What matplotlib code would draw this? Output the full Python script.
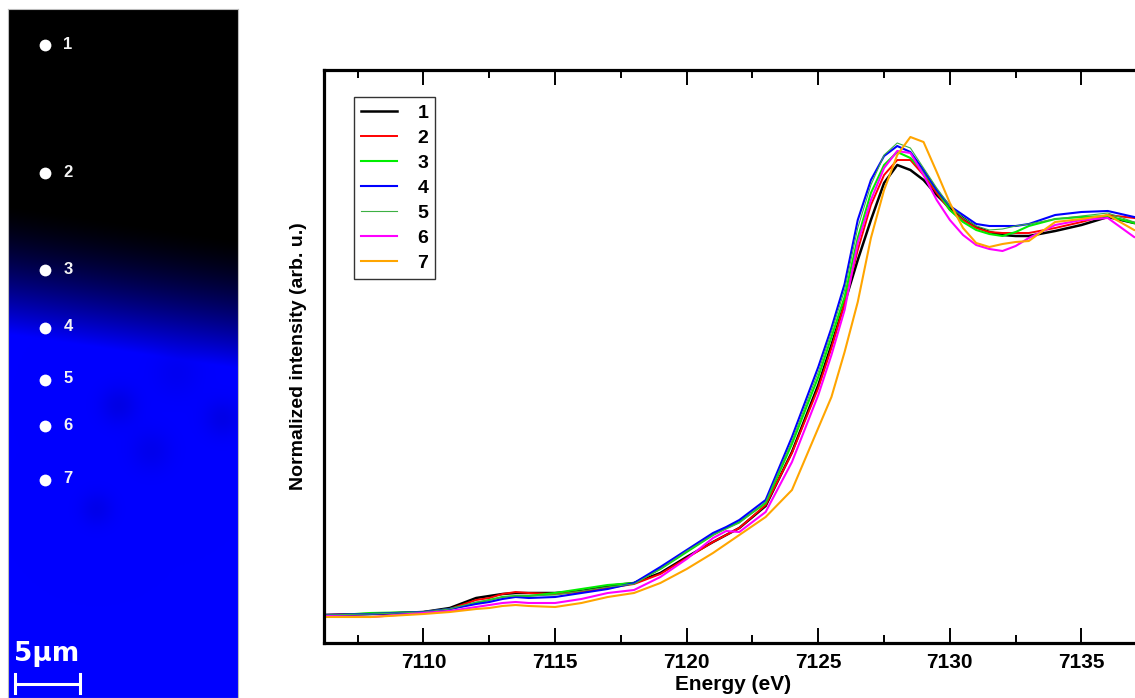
import numpy as np
import matplotlib
matplotlib.use("Agg")
import matplotlib.pyplot as plt
from matplotlib.ticker import MultipleLocator

plt.rcParams['font.family'] = ['Liberation Sans', 'DejaVu Sans']

# ---------------- data ----------------
energy = [7106.2, 7108, 7110, 7111, 7112, 7112.5, 7113, 7113.5, 7114, 7115, 7116,
          7117, 7118, 7119, 7120, 7121, 7121.5, 7122, 7123, 7124, 7125, 7125.5,
          7126, 7126.5, 7127, 7127.5, 7128, 7128.5, 7129, 7129.5, 7130, 7130.5,
          7131, 7131.5, 7132, 7132.5, 7133, 7134, 7135, 7136, 7137, 7138]

# raw intensities (arb. u.), pre-edge set to zero
raw_1 = [0, 1, 3, 7, 17, 19, 21, 22, 22, 22, 24, 29, 32, 42, 58, 73, 80, 87, 109, 163, 230, 270,
         312, 355, 395, 432, 450, 445, 435, 420, 407, 397, 388, 383, 380, 379, 379, 384, 390, 398, 392, 389]
raw_2 = [0, 1, 3, 6, 15, 17, 21, 23, 22, 21, 23, 27, 31, 41, 57, 73, 80, 87, 110, 162, 227, 267,
         312, 365, 410, 440, 455, 455, 440, 422, 405, 395, 387, 383, 382, 382, 382, 387, 393, 400, 397, 393]
raw_3 = [-1, 2, 3, 6, 12, 15, 18, 19, 19, 22, 26, 30, 32, 46, 63, 80, 87, 93, 112, 171, 238, 278,
         318, 377, 422, 450, 463, 457, 443, 425, 405, 393, 385, 381, 379, 383, 389, 396, 398, 399, 392, 389]
raw_4 = [0, 1, 3, 6, 11, 13, 16, 18, 17, 18, 22, 26, 32, 48, 65, 82, 88, 95, 115, 178, 248, 287,
         331, 395, 435, 459, 469, 463, 445, 425, 409, 400, 391, 389, 389, 389, 391, 400, 403, 404, 398, 393]
raw_5 = [0, 1, 3, 6, 13, 15, 18, 19, 19, 20, 24, 28, 31, 46, 64, 80, 86, 92, 113, 174, 243, 283,
         325, 387, 430, 460, 472, 467, 447, 427, 409, 397, 389, 385, 386, 389, 391, 396, 399, 402, 393, 389]
raw_6 = [-1, -2, 2, 4, 8, 10, 12, 13, 12, 12, 16, 22, 25, 38, 56, 77, 84, 83, 103, 153, 220, 260,
         305, 372, 415, 447, 464, 462, 440, 415, 395, 380, 370, 366, 364, 369, 377, 390, 395, 397, 378, 370]
raw_7 = [-2, -2, 1, 3, 6, 7, 9, 10, 9, 8, 12, 18, 22, 32, 46, 62, 71, 80, 98, 125, 187, 218,
         263, 313, 377, 425, 460, 478, 473, 443, 412, 387, 372, 368, 371, 373, 374, 393, 396, 400, 385, 379]
edge_jump = 390.0

labels = ['1', '2', '3', '4', '5', '6', '7']
colors = ['#000000', '#ff0000', '#00ee00', '#0000ff', '#3cb043', '#ff00ff', '#ffa500']
widths = [1.8, 1.4, 1.5, 1.5, 0.8, 1.5, 1.5]
series = [raw_1, raw_2, raw_3, raw_4, raw_5, raw_6, raw_7]

# microscopy map: spot positions in micrometres (x, y from top-left)
spot_x = [2.85, 2.85, 2.85, 2.85, 2.85, 2.85, 2.85]
spot_y = [2.77, 12.6, 20.1, 24.5, 28.5, 32.1, 36.2]
map_width_um = 17.7
map_height_um = 53.0
scalebar_um = 5.0

# ---------------- figure ----------------
W, H = 1135, 698
fig = plt.figure(figsize=(W / 100, H / 100), dpi=100)

# ---- left: map image ----
px = 13.0  # pixels per micrometre
axi = fig.add_axes([8 / W, 0, map_width_um * px / W, 689 / H])
ny, nx = 400, 120
yy, xx = np.mgrid[0:ny, 0:nx]
yum = yy / (ny - 1) * map_height_um
xum = xx / (nx - 1) * map_width_um
front = 15.0 + 0.15 * xum  # slanted transition
level = np.clip((yum - front) / 10.0, 0, 1) ** 1.5
for cx, cy, s, d in [(8.5, 30.5, 1.0, 0.10), (11.0, 34.0, 1.1, 0.07), (6.8, 38.5, 0.9, 0.08),
                     (16.5, 31.5, 1.0, 0.09), (13.0, 28.0, 1.3, 0.05)]:
    level = level * (1 - d * np.exp(-((xum - cx) ** 2 + (yum - cy) ** 2) / (2 * s ** 2)))
img = np.zeros((ny, nx, 3))
img[..., 2] = level
axi.imshow(img, extent=(0, map_width_um, map_height_um, 0), aspect='auto', interpolation='bilinear')
axi.set_xlim(0, map_width_um)
axi.set_ylim(map_height_um, 0)
axi.set_xticks([])
axi.set_yticks([])
for s in axi.spines.values():
    s.set_color('#bbbbbb')
    s.set_linewidth(0.8)
axi.plot(spot_x, spot_y, 'o', color='white', markersize=8.5, markeredgewidth=0)
for x, y, lab in zip(spot_x, spot_y, labels):
    axi.text(x + 1.4, y - 0.05, lab, color='#f4f4f4', fontsize=12, fontweight='bold',
             ha='left', va='center')
sb_x0 = 0.55
sb_y = 51.9
axi.plot([sb_x0, sb_x0 + scalebar_um], [sb_y, sb_y], color='white', lw=2.2, solid_capstyle='butt')
axi.plot([sb_x0, sb_x0], [sb_y - 0.75, sb_y + 0.75], color='white', lw=2.2)
axi.plot([sb_x0 + scalebar_um, sb_x0 + scalebar_um], [sb_y - 0.75, sb_y + 0.75], color='white', lw=2.2)
axi.text(sb_x0 - 0.1, 50.6, '5\u03bcm', color='white', fontsize=19, fontweight='bold',
         ha='left', va='bottom', family=['DejaVu Sans'])

# ---- right: spectra ----
left_px, right_px, bot_px, top_px = 324, 1142, 643, 70
ax = fig.add_axes([left_px / W, (H - bot_px) / H, (right_px - left_px) / W, (bot_px - top_px) / H])
for raw, lab, c, lw in zip(series, labels, colors, widths):
    ax.plot(energy, np.array(raw) / edge_jump, color=c, lw=lw, label=lab)

ax.set_xlim(7106.22, 7137.3)
ax.set_ylim(-28 / edge_jump, 545 / edge_jump)
ax.xaxis.set_major_locator(MultipleLocator(5))
ax.xaxis.set_minor_locator(MultipleLocator(2.5))
ax.set_yticks([])
ax.tick_params(axis='x', which='both', direction='in', top=True, bottom=True, width=1.4,
               labelsize=15, pad=7)
ax.tick_params(axis='x', which='major', length=11)
ax.tick_params(axis='x', which='minor', length=5.8)
for lab in ax.get_xticklabels():
    lab.set_fontweight('bold')
for s in ax.spines.values():
    s.set_linewidth(2.3)
ax.set_xlabel('Energy (eV)', fontsize=15, fontweight='bold', labelpad=2)
ax.set_ylabel('Normalized intensity (arb. u.)', fontsize=14, fontweight='bold', labelpad=12)

leg = ax.legend(loc='upper left', bbox_to_anchor=(0.0367, 0.953), borderaxespad=0,
                prop={'weight': 'bold', 'size': 14}, handlelength=1.85, handletextpad=1.05,
                labelspacing=0.38, borderpad=0.36, fancybox=False, framealpha=1)
leg.get_frame().set_edgecolor('#333333')
leg.get_frame().set_linewidth(1.0)

fig.savefig('out.png', dpi=100)
